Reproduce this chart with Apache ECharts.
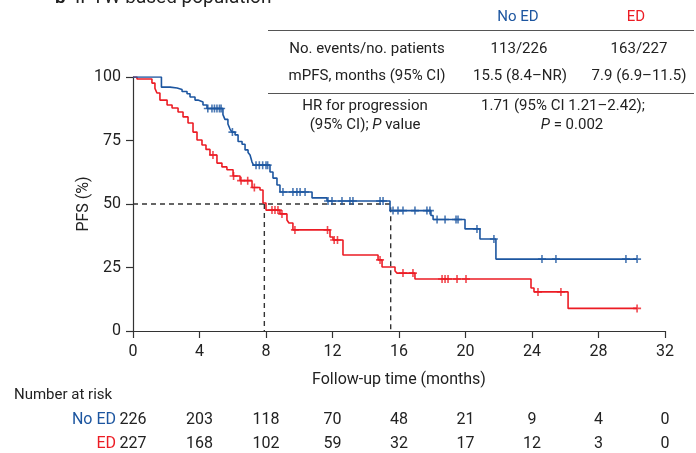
<!DOCTYPE html>
<html>
<head>
<meta charset="utf-8">
<script src="https://cdn.jsdelivr.net/npm/echarts@6/dist/echarts.min.js"></script>
<style>
  html, body { margin: 0; padding: 0; background: #fff; }
  #chart { width: 696px; height: 453px; }
</style>
</head>
<body>
<div id="chart"></div>
<script>
// Kaplan–Meier PFS, IPTW-weighted population: No ED vs ED

const xTicks = [0, 4, 8, 12, 16, 20, 24, 28, 32];

// No ED: event times (months) and PFS (%) after each step
const noEdTimes = [0, 1.71, 2.23, 2.65, 2.95, 3.25, 3.43, 3.73, 3.91, 4.21, 4.45,
  5.41, 5.53, 5.71, 5.83, 5.95, 6.14, 6.32, 6.56, 6.74, 6.92, 7.04, 7.16, 7.25,
  8.24, 8.42, 8.66, 8.84, 10.77, 11.67, 15.46, 17.92, 18.05, 19.97, 20.87, 21.83, 30.32];
const noEdSurv = [100, 96.0, 95.7, 95.1, 94.3, 93.4, 92.1, 90.9, 90.2, 89.0, 87.6,
  85.2, 83.3, 81.5, 79.6, 78.3, 77.2, 74.6, 73.5, 71.3, 70.3, 69.3, 66.5, 65.3,
  62.6, 60.2, 57.5, 54.7, 52.4, 51.2, 47.4, 45.5, 43.9, 40.2, 36.2, 28.3, 28.3];
const noEdCensored = [4.5, 4.75, 4.9, 5.05, 5.2, 5.3, 5.98, 7.4, 7.6, 7.8, 8.0, 8.1,
  9.02, 9.62, 9.86, 10.05, 10.35, 11.73, 11.97, 12.57, 13.05, 13.23, 14.86, 15.04,
  15.64, 15.94, 16.24, 16.96, 17.68, 17.86, 18.29, 18.77, 19.43, 19.55, 20.69, 21.71,
  24.6, 25.44, 29.65, 30.32];

// ED: event times (months) and PFS (%) after each step
const edTimes = [0, 0.24, 1.14, 1.32, 1.44, 1.62, 2.05, 2.35, 2.71, 3.01, 3.31, 3.61,
  3.85, 4.15, 4.39, 4.63, 5.05, 5.35, 5.65, 6.02, 6.44, 7.16, 7.64, 7.82, 8.0, 8.84,
  9.26, 9.38, 9.62, 11.85, 12.03, 12.63, 14.74, 14.98, 15.76, 15.88, 16.96, 23.94,
  24.12, 26.17, 30.32];
const edSurv = [100, 99.2, 97.6, 95.5, 93.7, 90.9, 89.0, 87.8, 86.2, 84.3, 81.9, 78.3,
  75.2, 73.2, 71.5, 69.3, 66.1, 64.6, 63.5, 61.0, 59.2, 56.5, 55.5, 50.4, 47.6, 46.1,
  43.7, 42.5, 39.8, 37.0, 35.8, 29.9, 28.0, 25.2, 23.6, 22.8, 20.5, 16.9,
  15.4, 8.9, 8.9];
const edCensored = [4.81, 6.05, 6.5, 6.9, 7.3, 8.36, 8.54, 8.72, 8.96, 9.74, 11.7,
  12.1, 12.3, 14.86, 16.24, 16.84, 18.59, 18.77, 18.95, 19.49, 20.03, 24.36, 25.74, 30.32];

// Median PFS (months)
const medianNoEd = 15.5;
const medianEd = 7.9;

// Number at risk at each x tick
const riskNoEd = [226, 203, 118, 70, 48, 21, 9, 4, 0];
const riskEd = [227, 168, 102, 59, 32, 17, 12, 3, 0];

const BLUE = '#1d56a0';
const RED = '#ec1c24';
const INK = '#222';
const FONT = 'Roboto, "Noto Sans", sans-serif';

function stepValue(times, surv, t) {
  let v = surv[0];
  for (let i = 0; i < times.length; i++) {
    if (times[i] <= t) v = surv[i];
  }
  return v;
}
function pairs(times, surv) {
  return times.map((t, i) => [t, surv[i]]);
}
function censorMarks(cens, times, surv) {
  return cens.map(t => [t, stepValue(times, surv, t)]);
}

const plus = 'path://M4,0h2v4h4v2h-4v4h-2v-4h-4v-2h4z';

function riskAxis(gridIndex, counts) {
  return {
    type: 'value', gridIndex: gridIndex, min: 0, max: 32, interval: 4,
    axisLine: { show: false }, axisTick: { show: false }, splitLine: { show: false },
    axisLabel: {
      margin: 0, verticalAlign: 'middle', color: INK, fontSize: 16, fontFamily: FONT,
      showMinLabel: true, showMaxLabel: true,
      formatter: v => {
        const i = xTicks.indexOf(v);
        return i >= 0 ? String(counts[i]) : '';
      }
    }
  };
}

const chart = echarts.init(document.getElementById('chart'), null, { renderer: 'canvas' });

const option = {
  animation: false,
  backgroundColor: '#fff',
  grid: [
    { left: 133, right: 31, top: 77, bottom: 122 },
    { left: 133, right: 31, top: 419, height: 1 },
    { left: 133, right: 31, top: 443, height: 1 }
  ],
  xAxis: [
    {
      type: 'value', gridIndex: 0, min: 0, max: 32, interval: 4,
      name: 'Follow-up time (months)', nameLocation: 'middle', nameGap: 41,
      nameTextStyle: { color: INK, fontSize: 16, fontFamily: FONT },
      axisLine: { show: true, onZero: false, lineStyle: { color: '#333', width: 1.2 } },
      axisTick: { show: true, length: 7, lineStyle: { color: '#333', width: 1.2 } },
      splitLine: { show: false },
      axisLabel: { margin: 13, color: INK, fontSize: 16, fontFamily: FONT }
    },
    riskAxis(1, riskNoEd),
    riskAxis(2, riskEd)
  ],
  yAxis: [
    {
      type: 'value', gridIndex: 0, min: 0, max: 100, interval: 25,
      name: 'PFS (%)', nameLocation: 'middle', nameGap: 41, nameRotate: 90,
      nameMoveOverlap: false,
      nameTextStyle: { color: INK, fontSize: 16, fontFamily: FONT },
      axisLine: { show: true, onZero: false, lineStyle: { color: '#333', width: 1.2 } },
      axisTick: { show: true, length: 7, lineStyle: { color: '#333', width: 1.2 } },
      splitLine: { show: false },
      axisLabel: { margin: 12, color: INK, fontSize: 16, fontFamily: FONT }
    },
    { type: 'value', gridIndex: 1, show: false },
    { type: 'value', gridIndex: 2, show: false }
  ],
  series: [
    {
      name: 'median', type: 'line', xAxisIndex: 0, yAxisIndex: 0,
      data: [[0, 50], [medianNoEd, 50], [medianNoEd, 0]],
      symbol: 'none', silent: true, z: 1,
      lineStyle: { color: '#333', width: 1.4, type: [5, 4] }
    },
    {
      name: 'median ED', type: 'line', xAxisIndex: 0, yAxisIndex: 0,
      data: [[medianEd, 50], [medianEd, 0]],
      symbol: 'none', silent: true, z: 1,
      lineStyle: { color: '#333', width: 1.4, type: [5, 4] }
    },
    {
      name: 'ED', type: 'line', step: 'end', data: pairs(edTimes, edSurv),
      symbol: 'none', z: 3, lineStyle: { color: RED, width: 1.6 }
    },
    {
      name: 'No ED', type: 'line', step: 'end', data: pairs(noEdTimes, noEdSurv),
      symbol: 'none', z: 3, lineStyle: { color: BLUE, width: 1.6 }
    },
    {
      name: 'ED censored', type: 'scatter', data: censorMarks(edCensored, edTimes, edSurv),
      symbol: plus, symbolSize: 8, z: 4, itemStyle: { color: RED }
    },
    {
      name: 'No ED censored', type: 'scatter', data: censorMarks(noEdCensored, noEdTimes, noEdSurv),
      symbol: plus, symbolSize: 8, z: 4, itemStyle: { color: BLUE }
    }
  ],
  graphic: [
    // panel title
    {
      type: 'text', x: 55, y: -11,
      style: {
        text: '{b|b}  IPTW-based population', fill: INK,
        font: '19px ' + FONT,
        rich: { b: { fontWeight: 'bold', fontSize: 19, fontFamily: FONT } }
      }
    },
    // summary table
    { type: 'text', x: 518, y: 17, style: { text: 'No ED', fill: BLUE, font: '15px ' + FONT, textAlign: 'center', textVerticalAlign: 'middle' } },
    { type: 'text', x: 636, y: 17, style: { text: 'ED', fill: RED, font: '15px ' + FONT, textAlign: 'center', textVerticalAlign: 'middle' } },
    { type: 'line', shape: { x1: 268, y1: 30.5, x2: 694, y2: 30.5 }, style: { stroke: '#555', lineWidth: 1 } },
    { type: 'text', x: 367, y: 49, style: { text: 'No. events/no. patients', fill: INK, font: '15px ' + FONT, textAlign: 'center', textVerticalAlign: 'middle' } },
    { type: 'text', x: 519, y: 49, style: { text: '113/226', fill: INK, font: '15px ' + FONT, textAlign: 'center', textVerticalAlign: 'middle' } },
    { type: 'text', x: 639, y: 49, style: { text: '163/227', fill: INK, font: '15px ' + FONT, textAlign: 'center', textVerticalAlign: 'middle' } },
    { type: 'text', x: 367, y: 76, style: { text: 'mPFS, months (95% CI)', fill: INK, font: '15px ' + FONT, textAlign: 'center', textVerticalAlign: 'middle' } },
    { type: 'text', x: 520, y: 76, style: { text: '15.5 (8.4–NR)', fill: INK, font: '15px ' + FONT, textAlign: 'center', textVerticalAlign: 'middle' } },
    { type: 'text', x: 639, y: 76, style: { text: '7.9 (6.9–11.5)', fill: INK, font: '15px ' + FONT, textAlign: 'center', textVerticalAlign: 'middle' } },
    { type: 'line', shape: { x1: 268, y1: 93.5, x2: 694, y2: 93.5 }, style: { stroke: '#555', lineWidth: 1 } },
    { type: 'text', x: 365, y: 106, style: { text: 'HR for progression', fill: INK, font: '15px ' + FONT, textAlign: 'center', textVerticalAlign: 'middle' } },
    {
      type: 'text', x: 365, y: 125,
      style: {
        text: '(95% CI); {i|P} value', fill: INK, font: '15px ' + FONT,
        textAlign: 'center', textVerticalAlign: 'middle',
        rich: { i: { fontStyle: 'italic', fontSize: 15, fontFamily: FONT } }
      }
    },
    { type: 'text', x: 563, y: 106, style: { text: '1.71 (95% CI 1.21–2.42);', fill: INK, font: '15px ' + FONT, textAlign: 'center', textVerticalAlign: 'middle' } },
    {
      type: 'text', x: 572, y: 125,
      style: {
        text: '{i|P} = 0.002', fill: INK, font: '15px ' + FONT,
        textAlign: 'center', textVerticalAlign: 'middle',
        rich: { i: { fontStyle: 'italic', fontSize: 15, fontFamily: FONT } }
      }
    },
    // number-at-risk headings
    { type: 'text', x: 14, y: 395, style: { text: 'Number at risk', fill: INK, font: '15px ' + FONT, textVerticalAlign: 'middle' } },
    { type: 'text', x: 116, y: 420, style: { text: 'No ED', fill: BLUE, font: '16px ' + FONT, textAlign: 'right', textVerticalAlign: 'middle' } },
    { type: 'text', x: 116, y: 444, style: { text: 'ED', fill: RED, font: '16px ' + FONT, textAlign: 'right', textVerticalAlign: 'middle' } }
  ]
};

chart.setOption(option);
</script>
</body>
</html>
